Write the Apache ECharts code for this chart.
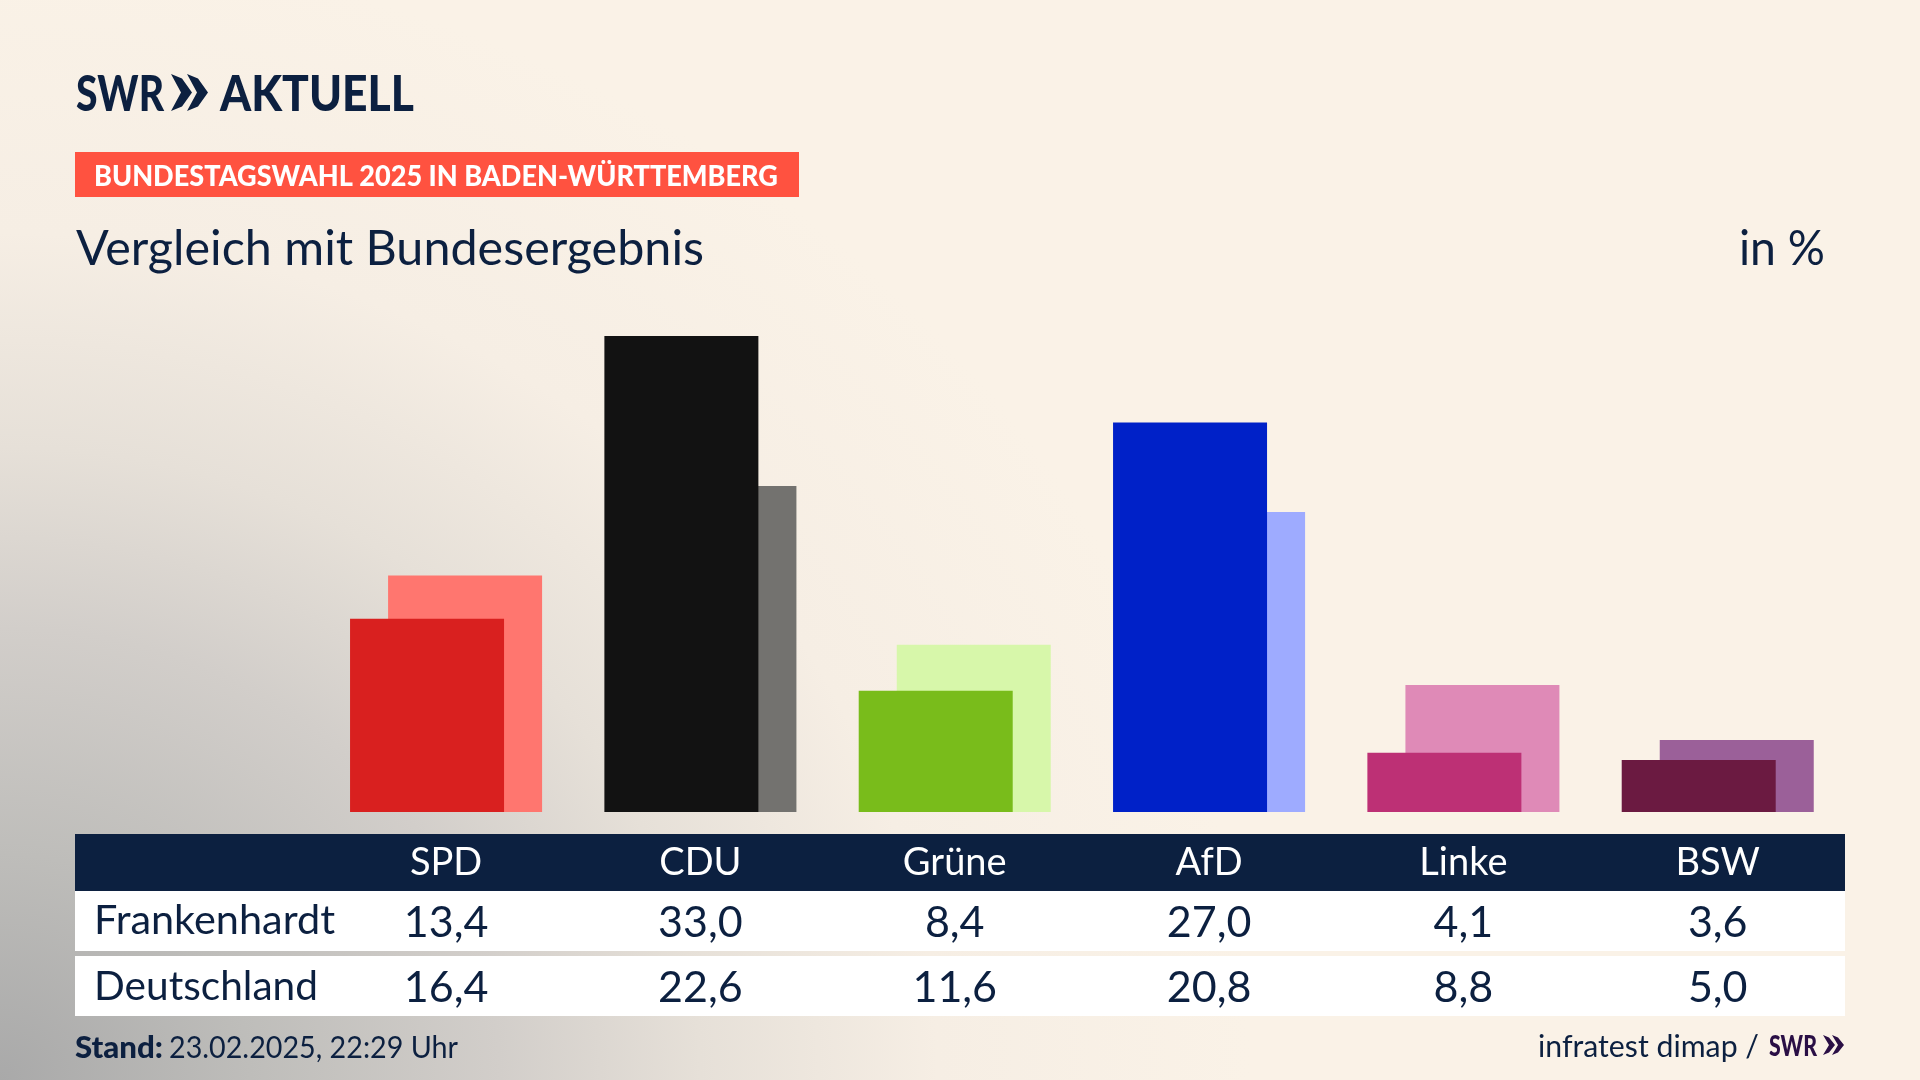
<!DOCTYPE html>
<html><head><meta charset="utf-8">
<style>
html,body{margin:0;padding:0;width:1920px;height:1080px;overflow:hidden;background:#FAF2E7}
#bg{position:absolute;inset:0;background:
 radial-gradient(ellipse 1250px 1130px at 0px 1080px,#a9a9a9 0%,#bebdba 20%,#d2ceca 40%,#e6e0d8 56%,#f6eee4 75%,#faf2e7 100%)}
#c{position:absolute;left:0;top:0;width:1920px;height:1080px}
</style>
<script src="https://cdn.jsdelivr.net/npm/echarts@6/dist/echarts.min.js"></script>
</head><body><div id="bg"></div><div id="c"></div>
<script>
const parties=['SPD','CDU','Grüne','AfD','Linke','BSW'];
const localName='Frankenhardt';
const nationalName='Deutschland';
const localValues=[13.4,33.0,8.4,27.0,4.1,3.6];
const nationalValues=[16.4,22.6,11.6,20.8,8.8,5.0];
const darkColors=['#D9201F','#121212','#79BC1B','#0021C8','#BD3075','#6B1A41'];
const lightColors=['#FF766F','#73726F','#D7F7AA','#9EABFF','#DF8AB7','#9B6099'];

const NAVY='#0C2040', FF='Lato, "Noto Sans", sans-serif';
const fmt=v=>v.toFixed(1).replace('.',',');
const ctx=document.createElement('canvas').getContext('2d');
function fit(text,x,baseline,width,size,weight,color,z){
  const font=`${weight} ${size}px ${FF}`;
  ctx.font=font;
  const w=ctx.measureText(text).width;
  return {type:'text',x:x,y:baseline+size*0.2,scaleX:width/w,z:z||10,silent:true,
    style:{text:text,font:font,fill:color||NAVY,textAlign:'left',textVerticalAlign:'bottom'}};
}
function chevron(x,y,w,h,t,color){
  const m=y+h/2;
  return {type:'polygon',z:10,silent:true,shape:{points:[[x,y],[x+t,y+h*0.12],[x+w,m],[x+t,y+h*0.88],[x,y+h],[x+w-t,m]]},style:{fill:color}};
}
function rect(x,y,w,h,fill){return {type:'rect',z:0,silent:true,shape:{x,y,width:w,height:h},style:{fill}};}
function rowAxis(labels,margin,color,size){
  return {type:'category',gridIndex:0,data:labels,position:'bottom',
    axisLine:{show:false},axisTick:{show:false},splitLine:{show:false},
    axisLabel:{show:true,interval:0,margin:margin,color:color,fontFamily:FF,fontSize:size,verticalAlign:'middle',hideOverlap:false}};
}
const chart=echarts.init(document.getElementById('c'));
chart.setOption({
  animation:false,
  backgroundColor:'transparent',
  grid:{left:318.9,right:75.1,top:336,bottom:268,outerBoundsMode:'none',containLabel:false},
  xAxis:[
    rowAxis(parties,51,'#ffffff',38),
    rowAxis(localValues.map(fmt),111,NAVY,43),
    rowAxis(nationalValues.map(fmt),176,NAVY,43)
  ],
  yAxis:{type:'value',min:0,max:33,show:false,splitLine:{show:false}},
  series:[
    {name:localName,type:'bar',xAxisIndex:0,z:4,barWidth:154,barGap:'-75.3%',
     data:localValues.map((v,i)=>({value:v,itemStyle:{color:darkColors[i]}}))},
    {name:nationalName,type:'bar',xAxisIndex:0,z:3,barWidth:154,
     data:nationalValues.map((v,i)=>({value:v,itemStyle:{color:lightColors[i]}}))}
  ],
  graphic:[
    rect(75,834,1770,57,NAVY),
    rect(75,891,1770,60,'#ffffff'),
    rect(75,956,1770,60,'#ffffff'),
    rect(75,152,724,45,'#FF5240'),
    fit('SWR',76,110,88,50,900),
    chevron(171,74,21,37,11,NAVY),
    chevron(187,74,21,37,11,NAVY),
    fit('AKTUELL',220,110,194,50,900),
    fit('BUNDESTAGSWAHL 2025 IN BADEN-WÜRTTEMBERG',94,185,684,29,900,'#ffffff'),
    fit('Vergleich mit Bundesergebnis',76,264,628,49,400),
    fit('in %',1739,264,86,49,400),
    fit(localName,94,933,241,40,400),
    fit(nationalName,94,999,224,40,400),
    fit('Stand:',75,1057,88,31,900),
    fit('23.02.2025, 22:29 Uhr',169,1057,289,31,400),
    fit('infratest dimap /',1538,1056,221,31,400),
    fit('SWR',1769,1055,48,28,900,'#2A0F45'),
    chevron(1823,1035,12,20,6,'#2A0F45'),
    chevron(1832,1035,12,20,6,'#2A0F45')
  ]
});
</script></body></html>
